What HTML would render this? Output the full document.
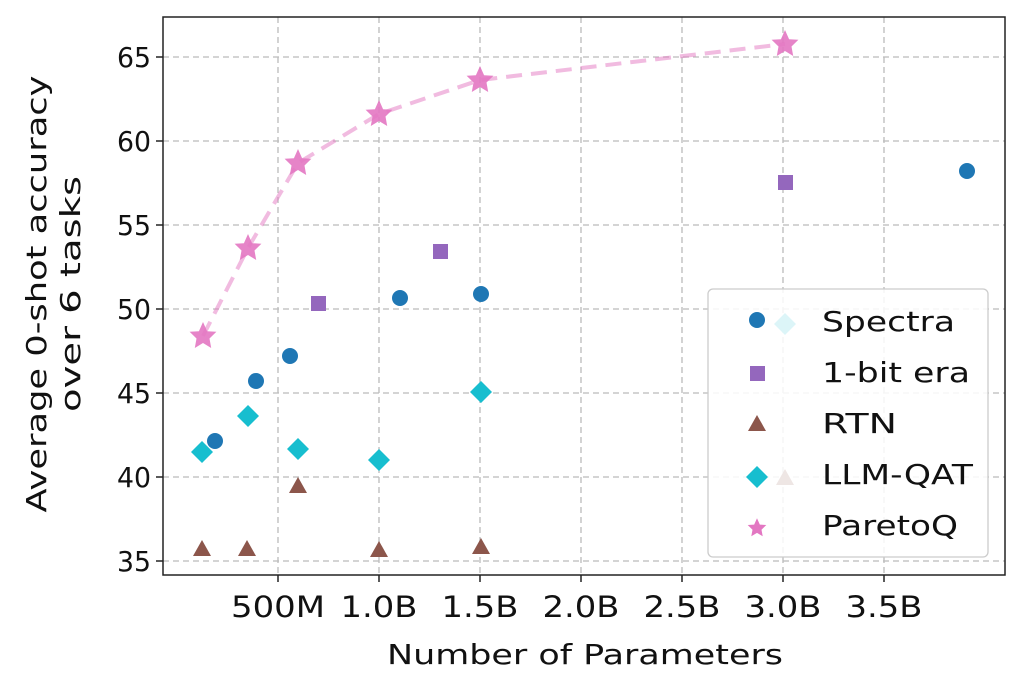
<!DOCTYPE html>
<html><head><meta charset="utf-8"><style>
body{margin:0;background:#fff;}
svg text{font-family:"DejaVu Sans","Liberation Sans",sans-serif;fill:#111;}
</style></head><body>
<svg width="1024" height="689" viewBox="0 0 1024 689" xmlns="http://www.w3.org/2000/svg">
<rect width="1024" height="689" fill="#fff"/>
<g stroke="#bbb" stroke-width="1.3" stroke-dasharray="6,4">
<line x1="163" x2="1005" y1="57" y2="57"/><line x1="163" x2="1005" y1="141" y2="141"/>
<line x1="163" x2="1005" y1="225" y2="225"/><line x1="163" x2="1005" y1="309" y2="309"/>
<line x1="163" x2="1005" y1="393" y2="393"/><line x1="163" x2="1005" y1="477" y2="477"/>
<line x1="163" x2="1005" y1="561" y2="561"/>
<line x1="278" x2="278" y1="17" y2="575"/><line x1="379" x2="379" y1="17" y2="575"/>
<line x1="480" x2="480" y1="17" y2="575"/><line x1="581" x2="581" y1="17" y2="575"/>
<line x1="682" x2="682" y1="17" y2="575"/><line x1="783" x2="783" y1="17" y2="575"/>
<line x1="884" x2="884" y1="17" y2="575"/>
</g>
<polyline points="203,336 248,248 298,163 379,114 480,80 785,44" fill="none" stroke="#e377c2" stroke-opacity="0.5" stroke-width="4" stroke-dasharray="16,9"/>
<defs>
<path id="star" d="M0,-14 L4.1,-4.8 L13.4,-4.3 L6.5,2.5 L8.2,12 L0,7 L-8.2,12 L-6.5,2.5 L-13.4,-4.3 L-4.1,-4.8Z"/>
<path id="tri" d="M0,-9 L9,7 L-9,7Z"/>
<path id="dia" d="M0,-11 L11,0 L0,11 L-11,0Z"/>
</defs>
<g fill="#e377c2" fill-opacity="0.9">
<use href="#star" x="203" y="336"/><use href="#star" x="248" y="248"/><use href="#star" x="298" y="163"/>
<use href="#star" x="379" y="114"/><use href="#star" x="480" y="80"/><use href="#star" x="785" y="44"/>
</g>
<g fill="#1f77b4">
<circle cx="215" cy="441" r="8"/><circle cx="256" cy="381" r="8"/><circle cx="290" cy="356" r="8"/>
<circle cx="400" cy="298" r="8"/><circle cx="481" cy="294" r="8"/><circle cx="967" cy="171" r="8"/>
</g>
<g fill="#9467bd">
<rect x="311" y="296" width="15" height="15"/><rect x="433" y="244" width="15" height="15"/><rect x="778" y="175" width="15" height="15"/>
</g>
<g fill="#8c564b">
<use href="#tri" x="202" y="549"/><use href="#tri" x="247" y="549"/><use href="#tri" x="298" y="486"/>
<use href="#tri" x="379" y="550"/><use href="#tri" x="481" y="547"/><use href="#tri" x="785" y="478"/>
</g>
<g fill="#17becf">
<use href="#dia" x="202" y="452"/><use href="#dia" x="248" y="416"/><use href="#dia" x="298" y="449"/>
<use href="#dia" x="379" y="460"/><use href="#dia" x="481" y="392"/><use href="#dia" x="785" y="324"/>
</g>
<rect x="708" y="289" width="280" height="268" rx="5" fill="#fff" fill-opacity="0.85" stroke="#ccc" stroke-width="1.3"/>
<circle cx="757" cy="320" r="8" fill="#1f77b4"/>
<rect x="750" y="366" width="15" height="15" fill="#9467bd"/>
<use href="#tri" x="757" y="424" fill="#8c564b"/>
<use href="#dia" x="757" y="477" fill="#17becf"/>
<path d="M0,-13 L3.8,-4.5 L12.4,-4 L6,2.3 L7.6,11 L0,6.5 L-7.6,11 L-6,2.3 L-12.4,-4 L-3.8,-4.5Z" transform="translate(757,528) scale(0.75)" fill="#e377c2"/>
<g font-size="28">
<text x="822" y="331" textLength="133" lengthAdjust="spacingAndGlyphs">Spectra</text>
<text x="822" y="382" textLength="148" lengthAdjust="spacingAndGlyphs">1-bit era</text>
<text x="822" y="433" textLength="75" lengthAdjust="spacingAndGlyphs">RTN</text>
<text x="822" y="484" textLength="151" lengthAdjust="spacingAndGlyphs">LLM-QAT</text>
<text x="822" y="535" textLength="136" lengthAdjust="spacingAndGlyphs">ParetoQ</text>
</g>
<rect x="163" y="17" width="842" height="558" fill="none" stroke="#222" stroke-width="1.5"/>
<g stroke="#222" stroke-width="1.5">
<line x1="156" x2="163" y1="57" y2="57"/><line x1="156" x2="163" y1="141" y2="141"/><line x1="156" x2="163" y1="225" y2="225"/>
<line x1="156" x2="163" y1="309" y2="309"/><line x1="156" x2="163" y1="393" y2="393"/><line x1="156" x2="163" y1="477" y2="477"/>
<line x1="156" x2="163" y1="561" y2="561"/>
<line x1="278" x2="278" y1="575" y2="582"/><line x1="379" x2="379" y1="575" y2="582"/><line x1="480" x2="480" y1="575" y2="582"/>
<line x1="581" x2="581" y1="575" y2="582"/><line x1="682" x2="682" y1="575" y2="582"/><line x1="783" x2="783" y1="575" y2="582"/>
<line x1="884" x2="884" y1="575" y2="582"/>
</g>
<g font-size="28" text-anchor="end">
<text x="151" y="67" textLength="34" lengthAdjust="spacingAndGlyphs">65</text><text x="151" y="151" textLength="34" lengthAdjust="spacingAndGlyphs">60</text><text x="151" y="235" textLength="34" lengthAdjust="spacingAndGlyphs">55</text><text x="151" y="319" textLength="34" lengthAdjust="spacingAndGlyphs">50</text>
<text x="151" y="403" textLength="34" lengthAdjust="spacingAndGlyphs">45</text><text x="151" y="487" textLength="34" lengthAdjust="spacingAndGlyphs">40</text><text x="151" y="571" textLength="34" lengthAdjust="spacingAndGlyphs">35</text>
</g>
<g font-size="29" text-anchor="middle">
<text x="278" y="617" textLength="94" lengthAdjust="spacingAndGlyphs">500M</text>
<text x="379" y="617" textLength="77" lengthAdjust="spacingAndGlyphs">1.0B</text>
<text x="480" y="617" textLength="77" lengthAdjust="spacingAndGlyphs">1.5B</text>
<text x="581" y="617" textLength="77" lengthAdjust="spacingAndGlyphs">2.0B</text>
<text x="682" y="617" textLength="77" lengthAdjust="spacingAndGlyphs">2.5B</text>
<text x="783" y="617" textLength="77" lengthAdjust="spacingAndGlyphs">3.0B</text>
<text x="884" y="617" textLength="77" lengthAdjust="spacingAndGlyphs">3.5B</text>
<text x="585" y="664" font-size="28" textLength="396" lengthAdjust="spacingAndGlyphs">Number of Parameters</text>
<text transform="translate(46,294) rotate(-90)" font-size="28" textLength="437" lengthAdjust="spacingAndGlyphs">Average 0-shot accuracy</text>
<text transform="translate(80,294) rotate(-90)" font-size="28" textLength="236" lengthAdjust="spacingAndGlyphs">over 6 tasks</text>
</g>
</svg>
</body></html>
